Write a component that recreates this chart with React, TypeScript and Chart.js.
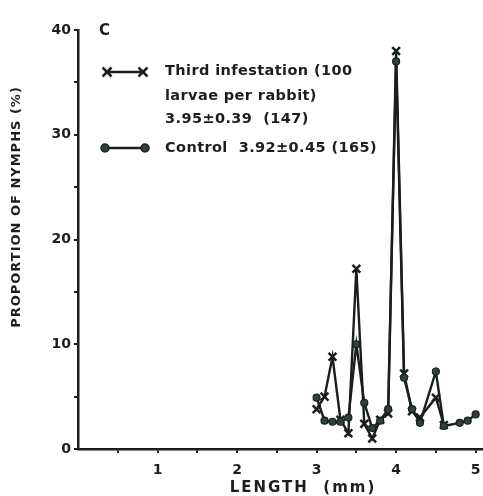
import React, { useEffect, useRef } from "react";
import { Chart, registerables } from "chart.js";

Chart.register(...registerables);

const thirdLengths = [3.0, 3.1, 3.2, 3.3, 3.4, 3.5, 3.6, 3.7, 3.8, 3.9, 4.0, 4.1, 4.2, 4.3, 4.5, 4.6];
const thirdValues = [3.8, 5.0, 8.8, 2.8, 1.5, 17.2, 2.4, 1.0, 2.8, 3.4, 38.0, 7.2, 3.6, 3.0, 4.9, 2.3];

const controlLengths = [3.0, 3.1, 3.2, 3.3, 3.4, 3.5, 3.6, 3.7, 3.8, 3.9, 4.0, 4.1, 4.2, 4.3, 4.5, 4.6, 4.8, 4.9, 5.0];
const controlValues = [4.9, 2.7, 2.6, 2.6, 3.0, 10.0, 4.4, 2.0, 2.7, 3.8, 37.0, 6.8, 3.8, 2.5, 7.4, 2.2, 2.5, 2.7, 3.3];

const xTickLabels = ["1", "2", "3", "4", "5"];
const yTickLabels = ["0", "10", "20", "30", "40"];

const panelLabel = "C";
const legendThird = ["Third infestation (100", "larvae per rabbit)", "3.95\u00B10.39  (147)"];
const legendControl = "Control  3.92\u00B10.45 (165)";
const yTitle = "PROPORTION OF NYMPHS (%)";
const xTitle = "LENGTH  (mm)";

const INK = "#1b1f1c";
const FILL = "#2f4236";
const FONT = "'DejaVu Sans', sans-serif";

function drawCross(ctx: CanvasRenderingContext2D, x: number, y: number, r: number) {
  ctx.beginPath();
  ctx.moveTo(x - r, y - r);
  ctx.lineTo(x + r, y + r);
  ctx.moveTo(x + r, y - r);
  ctx.lineTo(x - r, y + r);
  ctx.stroke();
}

function drawDot(ctx: CanvasRenderingContext2D, x: number, y: number, r: number) {
  ctx.beginPath();
  ctx.arc(x, y, r, 0, Math.PI * 2);
  ctx.fill();
  ctx.stroke();
}

const annotationsPlugin = {
  id: "annotations",
  afterDraw(chart: any) {
    const ctx: CanvasRenderingContext2D = chart.ctx;
    ctx.save();
    ctx.fillStyle = INK;
    ctx.strokeStyle = INK;
    ctx.lineWidth = 2.5;
    ctx.textBaseline = "middle";
    ctx.textAlign = "left";

    ctx.font = `bold 15px ${FONT}`;
    ctx.fillText(panelLabel, 99, 31);

    // legend: third infestation
    ctx.beginPath();
    ctx.moveTo(107, 72);
    ctx.lineTo(143, 72);
    ctx.stroke();
    drawCross(ctx, 107, 72, 4.5);
    drawCross(ctx, 143, 72, 4.5);
    ctx.font = `bold 14.5px ${FONT}`;
    (ctx as any).letterSpacing = "0.4px";
    ctx.fillText(legendThird[0], 165, 71);
    ctx.fillText(legendThird[1], 165, 96);
    ctx.fillText(legendThird[2], 165, 119);

    // legend: control
    ctx.beginPath();
    ctx.moveTo(105, 148);
    ctx.lineTo(145, 148);
    ctx.stroke();
    ctx.fillStyle = FILL;
    ctx.lineWidth = 1.5;
    drawDot(ctx, 105, 148, 4);
    drawDot(ctx, 145, 148, 4);
    ctx.fillStyle = INK;
    ctx.fillText(legendControl, 165, 148);

    // y title
    ctx.save();
    ctx.translate(17, 207);
    ctx.rotate(-Math.PI / 2);
    ctx.textAlign = "center";
    ctx.font = `bold 13px ${FONT}`;
    (ctx as any).letterSpacing = "1px";
    ctx.fillText(yTitle, 0, 0);
    ctx.restore();

    // x title
    ctx.textAlign = "center";
    ctx.font = `bold 15px ${FONT}`;
    (ctx as any).letterSpacing = "2px";
    ctx.fillText(xTitle, 303, 488);
    ctx.restore();
  },
};

export default function App() {
  const canvasRef = useRef<HTMLCanvasElement | null>(null);

  useEffect(() => {
    const canvas = canvasRef.current;
    if (!canvas) return;
    const chart = new Chart(canvas, {
      type: "line",
      data: {
        datasets: [
          {
            label: "Control",
            data: controlLengths.map((x, i) => ({ x, y: controlValues[i] })),
            borderColor: INK,
            borderWidth: 2.4,
            pointStyle: "circle",
            pointRadius: 3.5,
            pointBackgroundColor: FILL,
            pointBorderColor: INK,
            pointBorderWidth: 1.2,
            tension: 0,
            fill: false,
          },
          {
            label: "Third infestation",
            data: thirdLengths.map((x, i) => ({ x, y: thirdValues[i] })),
            borderColor: INK,
            borderWidth: 2.4,
            pointStyle: "crossRot",
            pointRadius: 5.5,
            pointBorderColor: INK,
            pointBorderWidth: 2.5,
            tension: 0,
            fill: false,
          },
        ],
      },
      options: {
        animation: false,
        responsive: false,
        maintainAspectRatio: false,
        layout: { autoPadding: false, padding: { top: 30, right: 1, left: 0, bottom: 0 } },
        plugins: {
          legend: { display: false },
          tooltip: { enabled: false },
        },
        scales: {
          x: {
            type: "linear",
            min: 0,
            max: 5.08,
            afterFit: (s: any) => {
              s.height = 47;
              s.paddingLeft = 0;
              s.paddingRight = 0;
            },
            afterBuildTicks: (s: any) => {
              const t = [];
              for (let i = 1; i <= 10; i++) t.push({ value: i * 0.5 });
              s.ticks = t;
            },
            border: { display: true, color: INK, width: 2.5 },
            grid: { drawOnChartArea: false, drawTicks: true, tickLength: 4, color: INK, lineWidth: 2 },
            ticks: {
              autoSkip: false,
              maxRotation: 0,
              padding: 9,
              color: INK,
              font: { family: "'DejaVu Sans', sans-serif", weight: "bold", size: 14 },
              callback: (v: any) => {
                const n = Number(v);
                return Number.isInteger(n) ? xTickLabels[n - 1] ?? "" : "";
              },
            },
          },
          y: {
            type: "linear",
            min: 0,
            max: 40,
            afterFit: (s: any) => {
              s.width = 78;
              s.paddingTop = 0;
              s.paddingBottom = 0;
            },
            afterBuildTicks: (s: any) => {
              const t = [];
              for (let i = 0; i <= 8; i++) t.push({ value: i * 5 });
              s.ticks = t;
            },
            border: { display: true, color: INK, width: 2.5 },
            grid: { drawOnChartArea: false, drawTicks: true, tickLength: 4, color: INK, lineWidth: 2 },
            ticks: {
              autoSkip: false,
              padding: 3,
              color: INK,
              font: { family: "'DejaVu Sans', sans-serif", weight: "bold", size: 14 },
              callback: (v: any) => {
                const n = Number(v);
                return n % 10 === 0 ? yTickLabels[n / 10] : "";
              },
            },
          },
        },
      },
      plugins: [annotationsPlugin],
    });
    return () => chart.destroy();
  }, []);

  return (
    <div style={{ position: "absolute", left: 0, top: 0, width: 483, height: 496, background: "#fff" }}>
      <canvas ref={canvasRef} width={483} height={496} style={{ display: "block", width: 483, height: 496 }} />
    </div>
  );
}
